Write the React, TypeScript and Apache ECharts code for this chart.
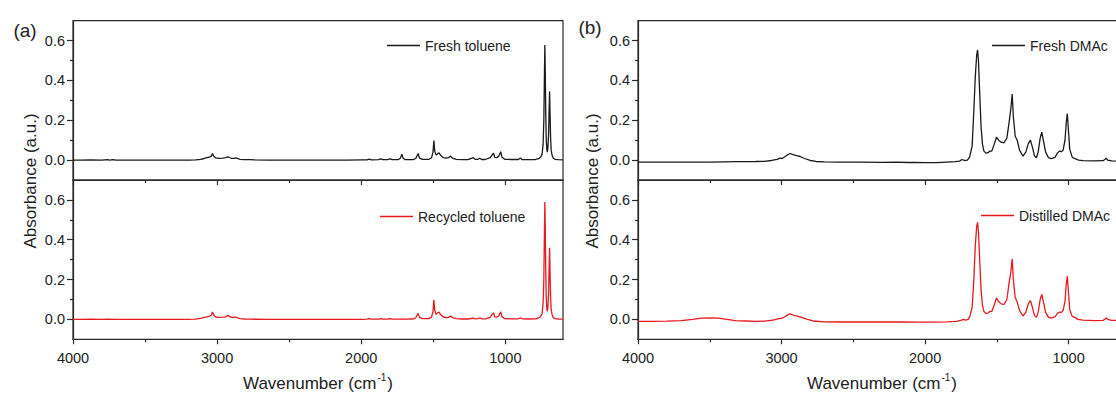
import React, { useEffect, useRef } from "react";
import * as echarts from "echarts";

// ---- data: [wavenumber (cm-1), absorbance (a.u.)] ----
const freshToluene: number[][] = [
  [4000, 0.0], [3950, 0.0], [3880, 0.001], [3800, 0.0], [3760, 0.002], [3745, 0.0], [3725, 0.002], [3700, 0.0],
  [3600, 0.0], [3450, 0.0], [3300, 0.0], [3200, 0.0], [3150, 0.001], [3115, 0.004], [3090, 0.008], [3070, 0.012],
  [3050, 0.016], [3040, 0.02], [3032, 0.033], [3024, 0.02], [3010, 0.011], [2990, 0.009], [2960, 0.01], [2940, 0.012],
  [2925, 0.016], [2915, 0.013], [2900, 0.009], [2880, 0.009], [2870, 0.011], [2860, 0.008], [2840, 0.004], [2810, 0.002],
  [2770, 0.002], [2740, 0.001], [2650, 0.0], [2500, 0.0], [2300, 0.0], [2100, 0.0], [2000, 0.001], [1960, 0.001],
  [1945, 0.005], [1930, 0.001], [1880, 0.002], [1865, 0.006], [1850, 0.002], [1815, 0.003], [1800, 0.006], [1785, 0.002],
  [1745, 0.002], [1728, 0.01], [1718, 0.03], [1710, 0.01], [1695, 0.002], [1640, 0.002], [1622, 0.008], [1605, 0.033],
  [1596, 0.01], [1575, 0.004], [1530, 0.004], [1512, 0.012], [1502, 0.04], [1496, 0.098], [1490, 0.045], [1480, 0.025],
  [1468, 0.033], [1460, 0.037], [1450, 0.024], [1430, 0.012], [1410, 0.01], [1395, 0.012], [1380, 0.02], [1368, 0.01],
  [1340, 0.004], [1300, 0.002], [1260, 0.002], [1222, 0.012], [1210, 0.004], [1190, 0.004], [1178, 0.009], [1165, 0.003],
  [1140, 0.003], [1105, 0.012], [1090, 0.028], [1082, 0.035], [1074, 0.014], [1060, 0.012], [1045, 0.02], [1032, 0.042],
  [1024, 0.015], [1005, 0.004], [960, 0.003], [910, 0.003], [896, 0.01], [885, 0.003], [840, 0.002], [790, 0.003],
  [770, 0.007], [755, 0.015], [745, 0.03], [738, 0.08], [733, 0.2], [729, 0.42], [726, 0.578], [723, 0.45],
  [720, 0.25], [716, 0.1], [712, 0.055], [709, 0.04], [705, 0.06], [700, 0.13], [696, 0.26], [693, 0.345],
  [690, 0.24], [686, 0.11], [682, 0.05], [676, 0.025], [668, 0.01], [655, 0.004], [630, 0.002], [600, 0.001],
];

const recycledToluene: number[][] = [
  [4000, 0.0], [3950, 0.0], [3880, 0.001], [3800, 0.0], [3760, 0.001], [3700, 0.0], [3600, 0.0], [3450, 0.0],
  [3300, 0.0], [3200, 0.0], [3150, 0.001], [3115, 0.005], [3090, 0.01], [3070, 0.013], [3050, 0.017], [3040, 0.022],
  [3032, 0.037], [3024, 0.022], [3010, 0.012], [2990, 0.01], [2960, 0.011], [2940, 0.013], [2925, 0.02], [2915, 0.015],
  [2900, 0.01], [2880, 0.01], [2870, 0.012], [2860, 0.008], [2840, 0.004], [2810, 0.002], [2770, 0.001], [2650, 0.0],
  [2500, 0.0], [2300, 0.0], [2100, 0.0], [2000, 0.0], [1960, 0.001], [1945, 0.004], [1930, 0.001], [1880, 0.001],
  [1865, 0.004], [1850, 0.001], [1815, 0.002], [1800, 0.004], [1785, 0.001], [1700, 0.001], [1640, 0.002], [1622, 0.008],
  [1605, 0.03], [1596, 0.01], [1575, 0.004], [1530, 0.004], [1512, 0.012], [1502, 0.04], [1496, 0.098], [1490, 0.045],
  [1480, 0.026], [1468, 0.033], [1460, 0.037], [1450, 0.024], [1430, 0.012], [1410, 0.009], [1395, 0.01], [1378, 0.017],
  [1368, 0.009], [1340, 0.004], [1300, 0.002], [1260, 0.002], [1222, 0.006], [1210, 0.003], [1190, 0.004], [1176, 0.008],
  [1165, 0.003], [1140, 0.003], [1105, 0.01], [1090, 0.026], [1082, 0.033], [1074, 0.013], [1060, 0.011], [1045, 0.018],
  [1032, 0.038], [1024, 0.014], [1005, 0.004], [960, 0.003], [910, 0.003], [896, 0.008], [885, 0.003], [840, 0.002],
  [790, 0.003], [770, 0.007], [755, 0.015], [745, 0.03], [738, 0.08], [733, 0.2], [729, 0.43], [726, 0.59],
  [723, 0.46], [720, 0.26], [716, 0.1], [712, 0.055], [709, 0.04], [705, 0.06], [700, 0.13], [696, 0.27],
  [693, 0.36], [690, 0.25], [686, 0.11], [682, 0.05], [676, 0.025], [668, 0.01], [655, 0.004], [630, 0.002], [600, 0.001],
];

const freshDMAc: number[][] = [
  [4000, -0.01], [3900, -0.01], [3800, -0.01], [3700, -0.01], [3600, -0.01], [3500, -0.01], [3400, -0.009], [3320, -0.008],
  [3250, -0.008], [3180, -0.007], [3120, -0.006], [3070, -0.002], [3030, 0.004], [3010, 0.01], [2995, 0.008], [2975, 0.018],
  [2955, 0.028], [2940, 0.033], [2920, 0.027], [2895, 0.022], [2870, 0.018], [2840, 0.008], [2800, -0.002], [2760, -0.007],
  [2700, -0.009], [2600, -0.01], [2450, -0.01], [2300, -0.011], [2200, -0.01], [2120, -0.012], [2080, -0.011], [2000, -0.013],
  [1920, -0.013], [1850, -0.01], [1790, -0.008], [1760, -0.005], [1742, 0.003], [1725, -0.002], [1705, 0.0], [1690, 0.015],
  [1672, 0.07], [1660, 0.25], [1650, 0.42], [1640, 0.53], [1634, 0.553], [1628, 0.5], [1620, 0.35], [1610, 0.17],
  [1600, 0.08], [1590, 0.045], [1575, 0.035], [1562, 0.037], [1548, 0.045], [1535, 0.045], [1518, 0.08], [1502, 0.115],
  [1488, 0.1], [1470, 0.09], [1450, 0.087], [1430, 0.11], [1415, 0.187], [1402, 0.26], [1393, 0.332], [1385, 0.22],
  [1372, 0.12], [1358, 0.1], [1342, 0.05], [1318, 0.02], [1298, 0.04], [1282, 0.08], [1266, 0.1], [1252, 0.065],
  [1238, 0.022], [1224, 0.012], [1212, 0.04], [1198, 0.11], [1187, 0.14], [1176, 0.1], [1160, 0.04], [1140, 0.012],
  [1120, 0.007], [1095, 0.014], [1078, 0.035], [1064, 0.045], [1050, 0.042], [1038, 0.05], [1025, 0.1], [1016, 0.19],
  [1009, 0.233], [1001, 0.15], [992, 0.055], [975, 0.015], [955, 0.007], [930, 0.0], [900, -0.003], [820, -0.004],
  [760, -0.003], [745, 0.004], [737, 0.01], [728, 0.0], [700, -0.004], [660, -0.005], [600, -0.005],
];

const distilledDMAc: number[][] = [
  [4000, -0.01], [3900, -0.01], [3800, -0.009], [3700, -0.006], [3620, 0.0], [3560, 0.006], [3500, 0.008], [3440, 0.006],
  [3380, 0.0], [3320, -0.006], [3250, -0.008], [3180, -0.01], [3120, -0.009], [3060, -0.004], [3020, 0.004], [3000, 0.005],
  [2980, 0.012], [2955, 0.024], [2940, 0.028], [2920, 0.022], [2890, 0.016], [2860, 0.01], [2820, 0.0], [2780, -0.008],
  [2700, -0.012], [2600, -0.013], [2450, -0.012], [2300, -0.013], [2150, -0.013], [2050, -0.014], [1950, -0.014], [1850, -0.012],
  [1780, -0.01], [1745, -0.004], [1732, 0.0], [1718, -0.004], [1700, 0.0], [1688, 0.015], [1672, 0.06], [1660, 0.2],
  [1650, 0.37], [1640, 0.47], [1634, 0.487], [1628, 0.44], [1620, 0.31], [1610, 0.15], [1600, 0.07], [1590, 0.04],
  [1575, 0.03], [1562, 0.032], [1548, 0.04], [1535, 0.04], [1518, 0.072], [1502, 0.108], [1488, 0.09], [1470, 0.078],
  [1450, 0.075], [1430, 0.1], [1415, 0.18], [1402, 0.24], [1393, 0.303], [1385, 0.2], [1372, 0.11], [1358, 0.087],
  [1342, 0.045], [1318, 0.017], [1298, 0.035], [1282, 0.075], [1266, 0.095], [1252, 0.06], [1238, 0.02], [1224, 0.01],
  [1212, 0.035], [1198, 0.1], [1187, 0.125], [1176, 0.09], [1160, 0.035], [1140, 0.01], [1120, 0.007], [1095, 0.012],
  [1078, 0.03], [1064, 0.037], [1050, 0.035], [1038, 0.045], [1025, 0.09], [1016, 0.18], [1009, 0.217], [1001, 0.14],
  [992, 0.05], [975, 0.015], [955, 0.01], [935, 0.0], [900, -0.004], [820, -0.006], [760, -0.005], [745, 0.002],
  [737, 0.008], [728, 0.0], [700, -0.005], [660, -0.005], [600, -0.004],
];

const seriesNames = ["Fresh toluene", "Recycled toluene", "Fresh DMAc", "Distilled DMAc"];
const xMajorTicks = [4000, 3000, 2000, 1000];
const xMinorTicks = [3500, 2500, 1500];
const yMajorTicks = [0, 0.2, 0.4, 0.6];
const yMinorTicks = [0.1, 0.3, 0.5];
const xRange = [600, 4000];
const yRange = [-0.1, 0.7];
const panelLabels = ["(a)", "(b)"];
const xTitle = "Wavenumber (cm";
const yTitle = "Absorbance (a.u.)";

const BLACK = "#1a1a1a";
const RED = "#e8191f";
const AXIS = "#2a2a2a";
const TEXT = "#222";
const FONT = "'Liberation Sans', Arial, Helvetica, sans-serif";

export default function App() {
  const ref = useRef<HTMLDivElement>(null);
  useEffect(() => {
    if (!ref.current) return;
    document.body.style.overflow = "hidden";
    const chart = echarts.init(ref.current, undefined, { renderer: "svg" });

    const grids = [
      { left: 73, top: 20.7, width: 490, height: 159.3 },
      { left: 73, top: 180, width: 490, height: 159.3 },
      { left: 638, top: 20.7, width: 488, height: 159.3 },
      { left: 638, top: 180, width: 488, height: 159.3 },
    ].map((g) => ({ ...g, show: true, borderColor: AXIS, borderWidth: 1.2, backgroundColor: "transparent", containLabel: false }));

    const lineStyle = { color: AXIS, width: 1.2 };
    const xAxis: any[] = [];
    const yAxis: any[] = [];
    grids.forEach((_, gi) => {
      const showLabels = gi % 2 === 1;
      xAxis.push({
        type: "value", gridIndex: gi, inverse: true, min: xRange[0], max: xRange[1], position: "bottom",
        axisLine: { show: true, onZero: false, lineStyle },
        axisTick: { show: true, inside: false, length: 5, customValues: xMajorTicks, lineStyle },
        axisLabel: {
          show: showLabels, customValues: xMajorTicks, margin: 11, fontSize: 14.5, color: TEXT, fontFamily: FONT,
          formatter: (v: number) => String(v),
        },
        splitLine: { show: false },
      });
      xAxis.push({
        type: "value", gridIndex: gi, inverse: true, min: xRange[0], max: xRange[1], position: "bottom",
        axisLine: { show: false, onZero: false },
        axisTick: { show: true, inside: false, length: 3, customValues: xMinorTicks, lineStyle },
        axisLabel: { show: false },
        splitLine: { show: false },
      });
      yAxis.push({
        type: "value", gridIndex: gi, min: yRange[0], max: yRange[1], position: "left",
        axisLine: { show: true, onZero: false, lineStyle },
        axisTick: { show: true, inside: false, length: 6, customValues: yMajorTicks, lineStyle },
        axisLabel: {
          show: true, customValues: yMajorTicks, margin: 8, fontSize: 14.5, color: TEXT, fontFamily: FONT,
          formatter: (v: number) => v.toFixed(1),
        },
        splitLine: { show: false },
      });
      yAxis.push({
        type: "value", gridIndex: gi, min: yRange[0], max: yRange[1], position: "left",
        axisLine: { show: false, onZero: false },
        axisTick: { show: true, inside: false, length: 3, customValues: yMinorTicks, lineStyle },
        axisLabel: { show: false },
        splitLine: { show: false },
      });
    });

    const datasets = [freshToluene, recycledToluene, freshDMAc, distilledDMAc];
    const colors = [BLACK, RED, BLACK, RED];
    const series = datasets.map((d, i) => ({
      name: seriesNames[i],
      type: "line",
      xAxisIndex: i * 2,
      yAxisIndex: i * 2,
      data: d,
      symbol: "none",
      showSymbol: false,
      smooth: false,
      lineStyle: { color: colors[i], width: 1.3 },
      itemStyle: { color: colors[i] },
      clip: true,
    }));

    const legendPos = [
      { left: 387, top: 38.5 },
      { left: 380, top: 209.5 },
      { left: 992, top: 38.5 },
      { left: 981, top: 208.5 },
    ];
    const legend = seriesNames.map((n, i) => ({
      data: [n], left: legendPos[i].left, top: legendPos[i].top, padding: 0,
      icon: "rect", itemWidth: 33, itemHeight: 1.5, itemGap: 0,
      textStyle: { fontSize: 14, color: TEXT, fontFamily: FONT },
      selectedMode: false,
    }));

    const xTitleText = (cx: number) => ({
      type: "text", x: cx, y: 382,
      style: {
        text: `{a|${xTitle}}{s|-1}{a|)}`,
        align: "center", verticalAlign: "middle",
        rich: {
          a: { fontSize: 17, fill: TEXT, fontFamily: FONT, lineHeight: 20, verticalAlign: "bottom" },
          s: { fontSize: 10, fill: TEXT, fontFamily: FONT, lineHeight: 20, verticalAlign: "top", padding: [0, 1, 0, 1] },
        },
      },
    });
    const yTitleText = (cx: number) => ({
      type: "text", x: cx, y: 181, rotation: Math.PI / 2,
      style: { text: yTitle, fontSize: 17, fill: TEXT, fontFamily: FONT, align: "center", verticalAlign: "middle" },
    });
    const panelText = (cx: number, cy: number, t: string) => ({
      type: "text", x: cx, y: cy,
      style: { text: t, fontSize: 19, fill: TEXT, fontFamily: FONT, align: "center", verticalAlign: "middle" },
    });

    chart.setOption({
      animation: false,
      backgroundColor: "#ffffff",
      grid: grids,
      xAxis,
      yAxis,
      series,
      legend,
      graphic: [
        xTitleText(318),
        xTitleText(882),
        yTitleText(30),
        yTitleText(592),
        panelText(25, 30, panelLabels[0]),
        panelText(590, 27, panelLabels[1]),
      ],
    });
    return () => chart.dispose();
  }, []);
  return (
    <div
      ref={ref}
      style={{ position: "fixed", left: 0, top: 0, width: 1140, height: 394, background: "#fff" }}
    />
  );
}
